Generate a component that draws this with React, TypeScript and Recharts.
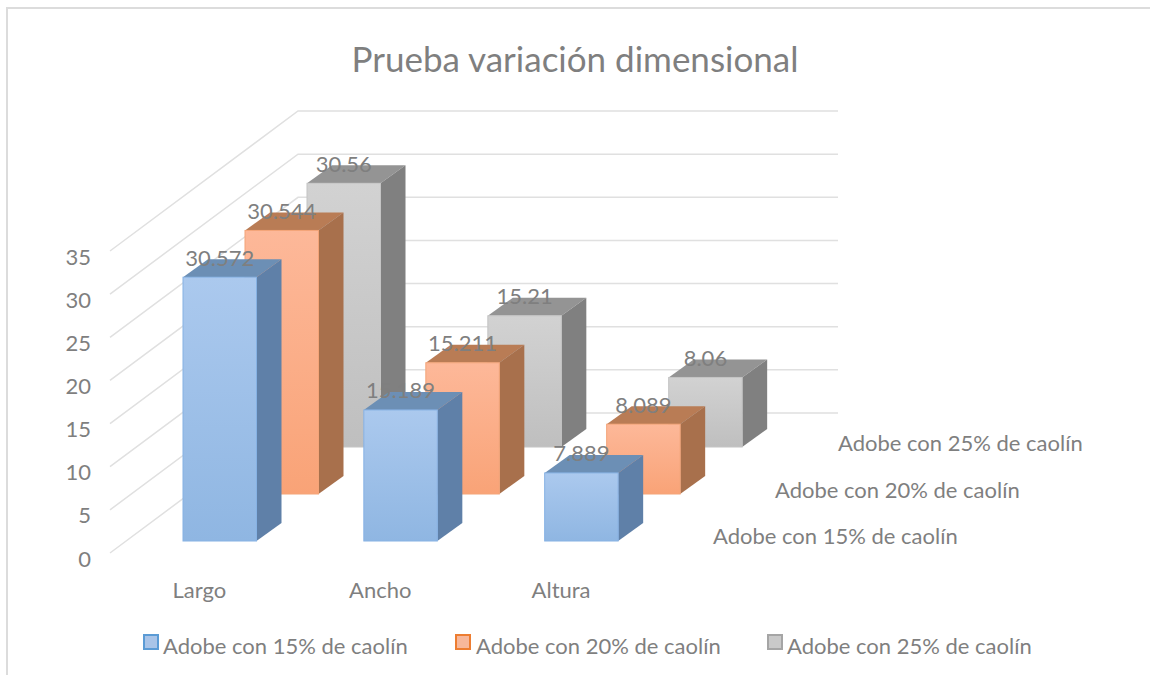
import React from "react";
import { ComposedChart, Bar, XAxis, YAxis, LabelList, Legend, CartesianGrid } from "recharts";

const categories = ["Largo", "Ancho", "Altura"];
const seriesNames = ["Adobe con 15% de caolín", "Adobe con 20% de caolín", "Adobe con 25% de caolín"];
const values15 = [30.572, 15.189, 7.889];
const values20 = [30.544, 15.211, 8.089];
const values25 = [30.56, 15.21, 8.06];
const yTicks = [0, 5, 10, 15, 20, 25, 30, 35];

const data = categories.map((c, i) => ({ name: c, s15: values15[i], s20: values20[i], s25: values25[i] }));

const FONT = "Lato, 'Open Sans', sans-serif";
const GREY = "#7f7f7f";
const DEPTH_X = 62;
const DEPTH_Y = 47;
const palette = [
  { id: "gBlue", a: "#abc9ee", b: "#8fb6e2", edge: "#86b2e4", top: "#6c8fb5", side: "#5f80a8" },
  { id: "gOrange", a: "#fdb899", b: "#f9a377", edge: "#f4a478", top: "#b97c55", side: "#a8704c" },
  { id: "gGrey", a: "#d2d2d2", b: "#bfbfbf", edge: "#c4c4c4", top: "#949494", side: "#808080" },
];

function box3d(depthIndex: number) {
  return (p: any) => {
    const c = palette[depthIndex];
    const x = p.x + DEPTH_X * depthIndex;
    const y = p.y - DEPTH_Y * depthIndex;
    const w = p.width;
    const h = p.height;
    const dx = 25;
    const dy = 18;
    return (
      <g>
        <path d={`M${x},${y} L${x + dx},${y - dy} L${x + w + dx},${y - dy} L${x + w},${y} Z`} fill={c.top} />
        <path d={`M${x + w},${y} L${x + w + dx},${y - dy} L${x + w + dx},${y + h - dy} L${x + w},${y + h} Z`} fill={c.side} />
        <rect x={x} y={y} width={w} height={h} fill={`url(#${c.id})`} stroke={c.edge} strokeWidth={1} />
      </g>
    );
  };
}

function valueLabel(depthIndex: number) {
  return (p: any) => (
    <text
      x={p.x + p.width / 2 + DEPTH_X * depthIndex}
      y={p.y - DEPTH_Y * depthIndex - 20}
      textAnchor="middle"
      dominantBaseline="central"
      fontFamily={FONT}
      fontSize={22}
      fill={GREY}
    >
      {p.value}
    </text>
  );
}

const wallLine = (p: any) => {
  const y = p.y1;
  return (
    <polyline
      key={`wall-${y}`}
      points={`110,${y + 12} 298,${y - 128} 838,${y - 128}`}
      fill="none"
      stroke="#e0e0e0"
      strokeWidth={1.5}
    />
  );
};

const YTick = (p: any) => (
  <text x={91} y={p.y + 17} textAnchor="end" dominantBaseline="central" fontFamily={FONT} fontSize={22} fill={GREY}>
    {p.payload.value}
  </text>
);

const XTick = (p: any) => (
  <text x={p.x - 20} y={589} textAnchor="middle" dominantBaseline="central" fontFamily={FONT} fontSize={22} fill={GREY}>
    {p.payload.value}
  </text>
);

const legendX = [
  { box: 143, text: 163 },
  { box: 455, text: 476 },
  { box: 767, text: 787 },
];
const legendEdges = ["#5b9bd5", "#ed7d31", "#a5a5a5"];
const legendFills = ["#a9c4e8", "#f7b79a", "#c9c9c9"];

const LegendContent = () => (
  <div style={{ position: "absolute", left: 0, top: 0, width: 1150, height: 0, pointerEvents: "none" }}>
    {seriesNames.map((n, i) => (
      <React.Fragment key={n}>
        <div
          style={{
            position: "absolute",
            left: legendX[i].box,
            top: 634,
            width: 12,
            height: 12,
            background: legendFills[i],
            border: `2px solid ${legendEdges[i]}`,
          }}
        />
        <div
          style={{
            position: "absolute",
            left: legendX[i].text,
            top: 632,
            lineHeight: "28px",
            fontFamily: FONT,
            fontSize: 22,
            color: GREY,
            whiteSpace: "nowrap",
          }}
        >
          {n}
        </div>
      </React.Fragment>
    ))}
  </div>
);

const depthLabelPos = [
  { x: 713, y: 535 },
  { x: 775, y: 489 },
  { x: 838, y: 442 },
];

export default function App() {
  return (
    <div style={{ position: "absolute", left: 0, top: 0, width: 1150, height: 675, background: "#fff", overflow: "hidden" }}>
      <div style={{ position: "absolute", left: 6, top: 7, width: 1144, height: 2, background: "#dcdcdc" }} />
      <div style={{ position: "absolute", left: 6, top: 7, width: 2, height: 668, background: "#dcdcdc" }} />
      <ComposedChart
        width={1150}
        height={675}
        data={data}
        margin={{ top: 239, right: 478.5, bottom: 94, left: 0 }}
        barSize={73.5}
        barGap={-73.5}
        style={{ position: "absolute", left: 0, top: 0 }}
      >
        <defs>
          {palette.map((c) => (
            <linearGradient key={c.id} id={c.id} x1="0" y1="0" x2="0" y2="1">
              <stop offset="0%" stopColor={c.a} />
              <stop offset="100%" stopColor={c.b} />
            </linearGradient>
          ))}
        </defs>
        <text x={575} y={58} textAnchor="middle" dominantBaseline="central" fontFamily={FONT} fontSize={35} fill={GREY}>
          Prueba variación dimensional
        </text>
        {seriesNames.map((n, i) => (
          <text key={n} x={depthLabelPos[i].x} y={depthLabelPos[i].y} dominantBaseline="central" fontFamily={FONT} fontSize={22} fill={GREY}>
            {n}
          </text>
        ))}
        <CartesianGrid vertical={false} horizontal={wallLine} syncWithTicks />
        <YAxis
          type="number"
          domain={[0, 35]}
          ticks={yTicks}
          width={129}
          axisLine={false}
          tickLine={false}
          tick={YTick}
          interval={0}
        />
        <XAxis dataKey="name" height={40} axisLine={false} tickLine={false} tick={XTick} interval={0} />
        <Bar dataKey="s25" name={seriesNames[2]} shape={box3d(2)} isAnimationActive={false}>
          <LabelList dataKey="s25" content={valueLabel(2)} />
        </Bar>
        <Bar dataKey="s20" name={seriesNames[1]} shape={box3d(1)} isAnimationActive={false}>
          <LabelList dataKey="s20" content={valueLabel(1)} />
        </Bar>
        <Bar dataKey="s15" name={seriesNames[0]} shape={box3d(0)} isAnimationActive={false}>
          <LabelList dataKey="s15" content={valueLabel(0)} />
        </Bar>
        <Legend content={<LegendContent />} wrapperStyle={{ position: "absolute", left: 0, top: 0, width: 0, height: 0, pointerEvents: "none" }} />
      </ComposedChart>
    </div>
  );
}
